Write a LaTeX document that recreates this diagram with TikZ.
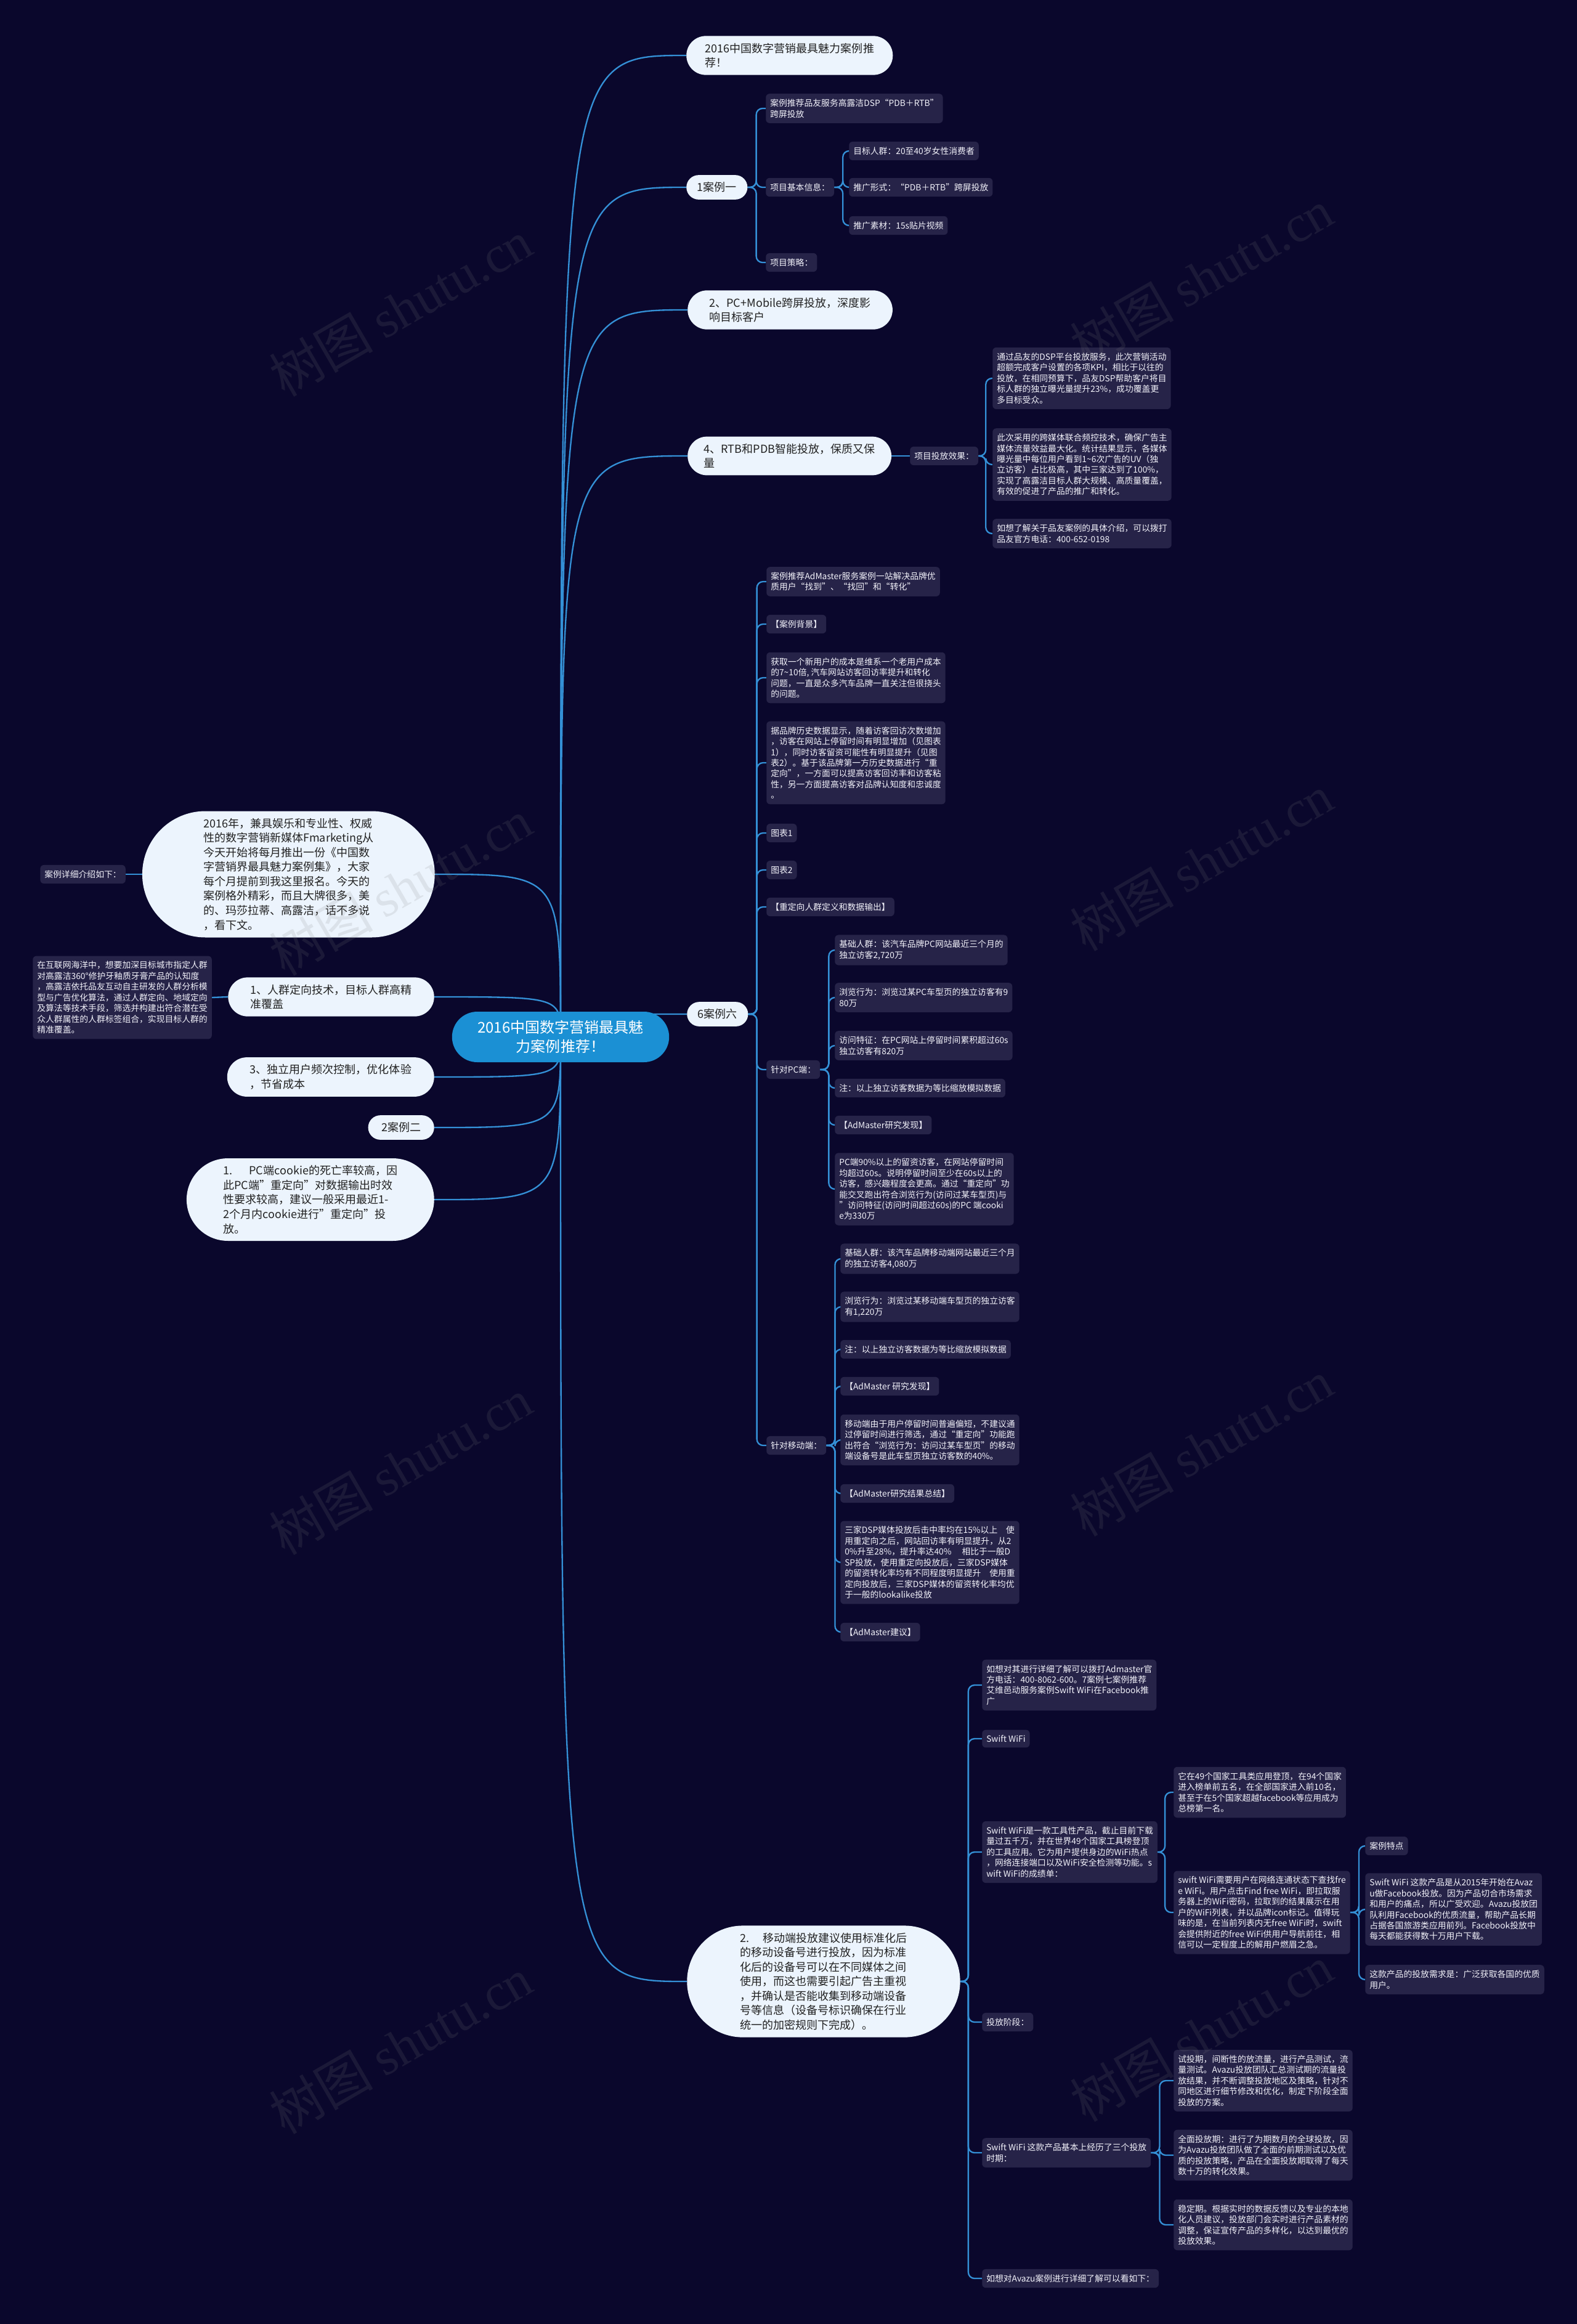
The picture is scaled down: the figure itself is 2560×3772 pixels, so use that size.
\documentclass[tikz,border=0pt]{standalone}
\usepackage{fontspec}
\setmainfont{Noto Sans CJK SC}
\newfontfamily\wmfont{Liberation Serif}
\usetikzlibrary{shapes.misc}
\definecolor{navybg}{RGB}{10,7,44}
\definecolor{boxfill}{RGB}{38,35,72}
\definecolor{leaftext}{RGB}{242,242,250}
\definecolor{pillfill}{RGB}{236,244,253}
\definecolor{pilltext}{RGB}{34,34,34}
\definecolor{rootblue}{RGB}{27,144,212}
\definecolor{linkblue}{RGB}{52,144,214}
\pgfdeclarelayer{back}
\pgfdeclarelayer{front}
\pgfsetlayers{back,main,front}

\begin{document}
\begin{tikzpicture}[x=0.3mm, y=-0.3mm,
    leaf/.style={fill=boxfill, text=leaftext, rounded corners=1.8mm,
      inner xsep=2.1mm, inner ysep=2.6mm, align=left, anchor=west,
      font=\fontsize{11.8}{14.9}\selectfont},
    pill/.style={rounded rectangle, fill=pillfill, text=pilltext,
      inner xsep=4.8mm, inner ysep=3.45mm, align=left,
      font=\fontsize{15.4}{20.1}\selectfont},
    conn/.style={draw=linkblue, line width=0.7mm, rounded corners=3mm},
    wmark/.style={text=gray, opacity=0.15, rotate=30,
      font=\fontsize{72}{80}\selectfont}]
  \useasboundingbox (0,0) rectangle (2560,3772);

  % centre
  \node[pill, fill=rootblue, text=white, align=center, inner xsep=9.4mm,
    inner ysep=4.2mm, font=\fontsize{20.5}{27}\selectfont] (root) at (910,1683)
    {2016中国数字营销最具魅\\力案例推荐！};

  % right branches
  \node[pill, anchor=west, inner xsep=6.9mm] (top) at (1114,90) {2016中国数字营销最具魅力案例推\\荐！};
  \node[pill, anchor=west, inner xsep=4.7mm] (c1) at (1114,304) {1案例一};
  \node[pill, anchor=west, inner xsep=8.4mm] (c2) at (1116,503) {2、PC+Mobile跨屏投放，深度影\\响目标客户};
  \node[pill, anchor=west, inner xsep=5.8mm] (c4) at (1116,740) {4、RTB和PDB智能投放，保质又保\\量};
  \node[pill, anchor=west, inner xsep=4.7mm] (c6) at (1115,1646) {6案例六};
  \node[pill, anchor=west, inner xsep=11.9mm] (mob) at (1115,3216) {2.\hspace{1.2em}移动端投放建议使用标准化后\\的移动设备号进行投放，因为标准\\化后的设备号可以在不同媒体之间\\使用，而这也需要引起广告主重视\\，并确认是否能收集到移动端设备\\号等信息（设备号标识确保在行业\\统一的加密规则下完成）。};

  % left branches
  \node[pill, anchor=east, inner xsep=13.2mm] (intro) at (706,1419) {2016年，兼具娱乐和专业性、权威\\性的数字营销新媒体Fmarketing从\\今天开始将每月推出一份《中国数\\字营销界最具魅力案例集》，大家\\每个月提前到我这里报名。今天的\\案例格外精彩，而且大牌很多，美\\的、玛莎拉蒂、高露洁，话不多说\\，看下文。};
  \node[pill, anchor=east, inner xsep=8.6mm] (p1) at (705,1618) {1、人群定向技术，目标人群高精\\准覆盖};
  \node[pill, anchor=east, inner xsep=8.8mm] (p3) at (705,1748) {3、独立用户频次控制，优化体验\\，节省成本};
  \node[pill, anchor=east, inner xsep=5.9mm] (c2b) at (705,1830) {2案例二};
  \node[pill, anchor=east, inner xsep=9mm] (pc1) at (705,1947) {1.\hspace{1.5em}PC端cookie的死亡率较高，因\\此PC端”重定向”对数据输出时效\\性要求较高，建议一般采用最近1-\\2个月内cookie进行”重定向”投\\放。};
  \node[leaf, anchor=east] (introd) at (204,1419) {案例详细介绍如下：};
  \node[leaf, anchor=east] (p1d) at (344,1619) {在互联网海洋中，想要加深目标城市指定人群\\对高露洁360°修护牙釉质牙膏产品的认知度\\，高露洁依托品友互动自主研发的人群分析模\\型与广告优化算法，通过人群定向、地域定向\\及算法等技术手段，筛选并构建出符合潜在受\\众人群属性的人群标签组合，实现目标人群的\\精准覆盖。};

  % case one
  \node[leaf] (a1) at (1243,176) {案例推荐品友服务高露洁DSP“PDB＋RTB”\\跨屏投放};
  \node[leaf] (a2) at (1243,304) {项目基本信息：};
  \node[leaf] (a3) at (1243,426) {项目策略：};
  \node[leaf] (b1) at (1378,245) {目标人群：20至40岁女性消费者};
  \node[leaf] (b2) at (1378,304) {推广形式：“PDB＋RTB”跨屏投放};
  \node[leaf] (b3) at (1378,366) {推广素材：15s贴片视频};

  % case four
  \node[leaf] (eff) at (1477,740) {项目投放效果：};
  \node[leaf] (k1) at (1611,614) {通过品友的DSP平台投放服务，此次营销活动\\超额完成客户设置的各项KPI，相比于以往的\\投放，在相同预算下，品友DSP帮助客户将目\\标人群的独立曝光量提升23\%，成功覆盖更\\多目标受众。};
  \node[leaf] (k2) at (1611,754) {此次采用的跨媒体联合频控技术，确保广告主\\媒体流量效益最大化。统计结果显示，各媒体\\曝光量中每位用户看到1\textasciitilde6次广告的UV（独\\立访客）占比极高，其中三家达到了100\%，\\实现了高露洁目标人群大规模、高质量覆盖，\\有效的促进了产品的推广和转化。};
  \node[leaf] (k3) at (1611,866) {如想了解关于品友案例的具体介绍，可以拨打\\品友官方电话：400-652-0198};

  % case six
  \node[leaf] (d1) at (1244,944) {案例推荐AdMaster服务案例一站解决品牌优\\质用户“找到”、“找回”和“转化”};
  \node[leaf] (d2) at (1244,1013) {【案例背景】};
  \node[leaf] (d3) at (1244,1100) {获取一个新用户的成本是维系一个老用户成本\\的7\textasciitilde10倍, 汽车网站访客回访率提升和转化\\问题，一直是众多汽车品牌一直关注但很挠头\\的问题。};
  \node[leaf] (d4) at (1244,1238) {据品牌历史数据显示，随着访客回访次数增加\\，访客在网站上停留时间有明显增加（见图表\\1），同时访客留资可能性有明显提升（见图\\表2）。基于该品牌第一方历史数据进行“重\\定向”，一方面可以提高访客回访率和访客粘\\性，另一方面提高访客对品牌认知度和忠诚度\\。};
  \node[leaf] (d5) at (1244,1352) {图表1};
  \node[leaf] (d6) at (1244,1412) {图表2};
  \node[leaf] (d7) at (1244,1472) {【重定向人群定义和数据输出】};
  \node[leaf] (pc) at (1244,1736) {针对PC端：};
  \node[leaf] (mo) at (1244,2346) {针对移动端：};

  % PC side
  \node[leaf] (q1) at (1355,1542) {基础人群：该汽车品牌PC网站最近三个月的\\独立访客2,720万};
  \node[leaf] (q2) at (1355,1619) {浏览行为：浏览过某PC车型页的独立访客有9\\80万};
  \node[leaf] (q3) at (1355,1697) {访问特征：在PC网站上停留时间累积超过60s\\独立访客有820万};
  \node[leaf] (q4) at (1355,1766) {注：以上独立访客数据为等比缩放模拟数据};
  \node[leaf] (q5) at (1355,1826) {【AdMaster研究发现】};
  \node[leaf] (q6) at (1355,1930) {PC端90\%以上的留资访客，在网站停留时间\\均超过60s。说明停留时间至少在60s以上的\\访客，感兴趣程度会更高。通过“重定向”功\\能交叉跑出符合浏览行为(访问过某车型页)与\\”访问特征(访问时间超过60s)的PC 端cooki\\e为330万};

  % mobile side
  \node[leaf] (m1) at (1364,2043) {基础人群：该汽车品牌移动端网站最近三个月\\的独立访客4,080万};
  \node[leaf] (m2) at (1364,2121) {浏览行为：浏览过某移动端车型页的独立访客\\有1,220万};
  \node[leaf] (m3) at (1364,2190) {注：以上独立访客数据为等比缩放模拟数据};
  \node[leaf] (m4) at (1364,2250) {【AdMaster 研究发现】};
  \node[leaf] (m5) at (1364,2337) {移动端由于用户停留时间普遍偏短，不建议通\\过停留时间进行筛选，通过“重定向”功能跑\\出符合“浏览行为：访问过某车型页”的移动\\端设备号是此车型页独立访客数的40\%。};
  \node[leaf] (m6) at (1364,2424) {【AdMaster研究结果总结】};
  \node[leaf] (m7) at (1364,2536) {三家DSP媒体投放后击中率均在15\%以上　使\\用重定向之后，网站回访率有明显提升，从2\\0\%升至28\%，提升率达40\%　 相比于一般D\\SP投放，使用重定向投放后，三家DSP媒体\\的留资转化率均有不同程度明显提升　使用重\\定向投放后，三家DSP媒体的留资转化率均优\\于一般的lookalike投放};
  \node[leaf] (m8) at (1364,2649) {【AdMaster建议】};

  % Swift WiFi
  \node[leaf] (g1) at (1594,2735) {如想对其进行详细了解可以拨打Admaster官\\方电话：400-8062-600。7案例七案例推荐\\艾维邑动服务案例Swift WiFi在Facebook推\\广};
  \node[leaf] (g2) at (1594,2822) {Swift WiFi};
  \node[leaf] (g3) at (1594,3006) {Swift WiFi是一款工具性产品，截止目前下载\\量过五千万，并在世界49个国家工具榜登顶\\的工具应用。它为用户提供身边的WiFi热点\\，网络连接端口以及WiFi安全检测等功能。s\\wift WiFi的成绩单：};
  \node[leaf] (g4) at (1594,3282) {投放阶段：};
  \node[leaf] (g5) at (1594,3494) {Swift WiFi 这款产品基本上经历了三个投放\\时期：};
  \node[leaf] (g6) at (1594,3698) {如想对Avazu案例进行详细了解可以看如下：};
  \node[leaf] (h1) at (1905,2909) {它在49个国家工具类应用登顶，在94个国家\\进入榜单前五名，在全部国家进入前10名，\\甚至于在5个国家超越facebook等应用成为\\总榜第一名。};
  \node[leaf] (h2) at (1905,3104) {swift WiFi需要用户在网络连通状态下查找fre\\e WiFi。用户点击Find free WiFi，即拉取服\\务器上的WiFi密码，拉取到的结果展示在用\\户的WiFi列表，并以品牌icon标记。值得玩\\味的是，在当前列表内无free WiFi时，swift\\会提供附近的free WiFi供用户导航前往，相\\信可以一定程度上的解用户燃眉之急。};
  \node[leaf] (i1) at (2216,2996) {案例特点};
  \node[leaf] (i2) at (2216,3099) {Swift WiFi 这款产品是从2015年开始在Avaz\\u做Facebook投放。因为产品切合市场需求\\和用户的痛点，所以广受欢迎。Avazu投放团\\队利用Facebook的优质流量，帮助产品长期\\占据各国旅游类应用前列。Facebook投放中\\每天都能获得数十万用户下载。};
  \node[leaf] (i3) at (2216,3213) {这款产品的投放需求是：广泛获取各国的优质\\用户。};
  \node[leaf] (j1) at (1905,3377) {试投期，间断性的放流量，进行产品测试，流\\量测试。Avazu投放团队汇总测试期的流量投\\放结果，并不断调整投放地区及策略，针对不\\同地区进行细节修改和优化，制定下阶段全面\\投放的方案。};
  \node[leaf] (j2) at (1905,3498) {全面投放期：进行了为期数月的全球投放，因\\为Avazu投放团队做了全面的前期测试以及优\\质的投放策略，产品在全面投放期取得了每天\\数十万的转化效果。};
  \node[leaf] (j3) at (1905,3611) {稳定期。根据实时的数据反馈以及专业的本地\\化人员建议，投放部门会实时进行产品素材的\\调整，保证宣传产品的多样化，以达到最优的\\投放效果。};

  \begin{pgfonlayer}{back}
    \fill[navybg] (0,0) rectangle (2560,3772);
    % centre to branches
    \foreach \k in {top,c1,c2,c4,c6,mob}
      \draw[conn] (root.center) .. controls (root.center |- \k.west) .. (\k.west);
    \foreach \k in {intro,p1,p3,c2b,pc1}
      \draw[conn] (root.center) .. controls (root.center |- \k.east) .. (\k.east);
    \draw[conn] (intro.west) -- (introd.east);
    \draw[conn] (p1.west) -- (p1d.east);
    % sub branches
    \foreach \k in {a1,a2,a3} \draw[conn] (c1.east) -- ++(14,0) |- (\k.west);
    \foreach \k in {b1,b2,b3} \draw[conn] (a2.east) -- ++(14,0) |- (\k.west);
    \draw[conn] (c4.east) -- (eff.west);
    \foreach \k in {k1,k2,k3} \draw[conn] (eff.east) -- ++(12,0) |- (\k.west);
    \foreach \k in {d1,d2,d3,d4,d5,d6,d7,pc,mo} \draw[conn] (c6.east) -- ++(14,0) |- (\k.west);
    \foreach \k in {q1,q2,q3,q4,q5,q6} \draw[conn] (pc.east) -- ++(14,0) |- (\k.west);
    \foreach \k in {m1,m2,m3,m4,m5,m6,m7,m8} \draw[conn] (mo.east) -- ++(14,0) |- (\k.west);
    \foreach \k in {g1,g2,g3,g4,g5,g6} \draw[conn] (mob.east) -- ++(13,0) |- (\k.west);
    \foreach \k in {h1,h2} \draw[conn] (g3.east) -- ++(12,0) |- (\k.west);
    \foreach \k in {i1,i2,i3} \draw[conn] (h2.east) -- ++(14,0) |- (\k.west);
    \foreach \k in {j1,j2,j3} \draw[conn] (g5.east) -- ++(14,0) |- (\k.west);
  \end{pgfonlayer}

  % watermark
  \begin{pgfonlayer}{front}
    \foreach \wx/\wy [count=\i] in {650/500,1950/450,650/1440,1950/1400,650/2380,1950/2350,650/3320,1950/3300}
      \node[wmark] (wm\i) at (\wx,\wy) {树图 {\wmfont shutu.cn}};
  \end{pgfonlayer}
\end{tikzpicture}
\end{document}
